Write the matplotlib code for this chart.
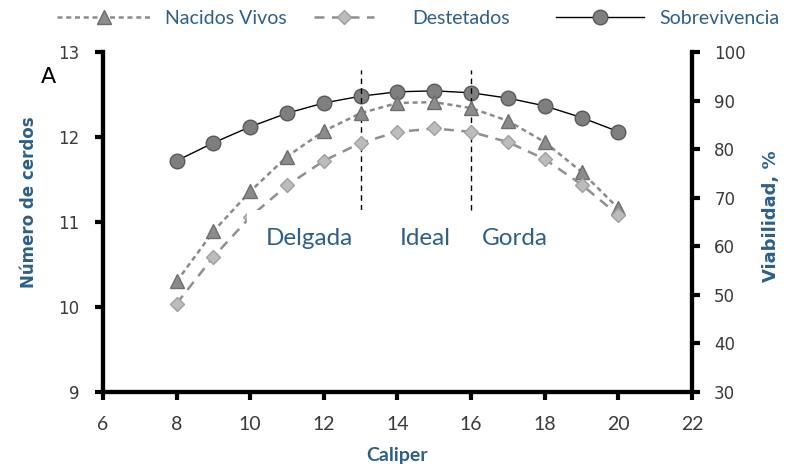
import numpy as np
import matplotlib
matplotlib.use("Agg")
import matplotlib.pyplot as plt

# datos
caliper = [8, 9, 10, 11, 12, 13, 14, 15, 16, 17, 18, 19, 20]
nacidos_vivos = [10.30, 10.89, 11.36, 11.77, 12.07, 12.28, 12.40, 12.41, 12.34, 12.19, 11.94, 11.59, 11.16]
destetados = [10.04, 10.59, 11.06, 11.43, 11.72, 11.93, 12.06, 12.10, 12.06, 11.94, 11.74, 11.44, 11.08]
sobrevivencia = [77.6, 81.3, 84.6, 87.4, 89.5, 90.9, 91.8, 92.0, 91.6, 90.5, 88.9, 86.5, 83.6]

cortes = [13, 16]
corte_y = (11.14, 12.79)
zonas = ["Delgada", "Ideal", "Gorda"]
zonas_x = [11.6, 14.75, 17.2]
zonas_y = 10.80

azul = "#2e5f87"
tick_color = "#3a3a3a"

fig = plt.figure(figsize=(7.96, 4.67), dpi=100)
ax = fig.add_axes([0.1294, 0.1606, 0.7399, 0.7281])
ax2 = ax.twinx()

# lineas de corte
for c in cortes:
    ax.plot([c, c], corte_y, color="black", lw=1, ls=(0, (4, 3)), zorder=2)

l1, = ax.plot(caliper, nacidos_vivos, color="#8a8a8a", lw=1.8, ls=(0, (2, 1.5)),
              marker="^", ms=10, mfc="#8c8c8c", mec="#6e6e6e", mew=1, zorder=3)
l2, = ax.plot(caliper, destetados, color="#8f8f8f", lw=1.8, ls=(0, (4, 3)),
              marker="D", ms=7, mfc="#bcbcbc", mec="#a0a0a0", mew=1, zorder=3)
l3, = ax2.plot(caliper, sobrevivencia, color="black", lw=1,
               marker="o", ms=10.5, mfc="#7f7f7f", mec="#5a5a5a", mew=1, zorder=3)

for i, z in enumerate(zonas):
    # el cuadro de texto de "Delgada" tapa parte de la serie Destetados
    bb = dict(facecolor="white", edgecolor="none", pad=13.5) if i == 0 else None
    ax.text(zonas_x[i], zonas_y, z, ha="center", va="center", fontsize=17.5,
            family="Lato", color=azul, zorder=5, bbox=bb)

ax.text(4.51, 12.70, "A", ha="center", va="center", fontsize=16, family="DejaVu Sans",
        clip_on=False)

ax.set_xlim(6, 22)
ax.set_ylim(9, 13)
ax2.set_ylim(30, 100)
ax.set_xticks(range(6, 23, 2))
ax.set_yticks(range(9, 14))
ax2.set_yticks(range(30, 101, 10))

for a in (ax, ax2):
    a.spines["top"].set_visible(False)
    for s in ("left", "right", "bottom"):
        a.spines[s].set_linewidth(3)
    a.tick_params(width=3, length=6, colors="black", labelcolor=tick_color)

ax.tick_params(axis="y", labelsize=12, pad=11)
ax2.tick_params(axis="y", labelsize=12, pad=10)
ax.tick_params(axis="x", labelsize=14, pad=11)
for lab in ax.get_xticklabels():
    lab.set_family("Lato")
ax.set_zorder(ax2.get_zorder() + 1)
ax.patch.set_visible(False)

ax.set_xlabel("Caliper", fontsize=14, fontweight="bold", color=azul, family="Lato")
ax.xaxis.label.set_va("center")
ax.xaxis.set_label_coords(0.5, -0.188)
ax.set_ylabel("Número de cerdos", fontsize=12, fontweight="bold", color=azul)
ax.yaxis.set_label_coords(-0.11, 0.559)
ax2.set_ylabel("Viabilidad, %", fontsize=13, fontweight="bold", color=azul)
ax2.yaxis.set_label_coords(1.119, 0.518)

# leyenda arriba: una entrada por bloque para respetar largos distintos
entradas = [(l1, "Nacidos Vivos", 57, 4.8, 0.77),
            (l2, "Destetados", 314, 3.1, 1.95),
            (l3, "Sobrevivencia", 556, 4.5, 0.8)]
for h, txt, x0, hl, tp in entradas:
    leg = fig.legend([h], [txt], loc="center left", bbox_to_anchor=(x0 / 796, 1 - 18 / 467),
                     frameon=False, prop={"family": "Lato", "size": 14}, handlelength=hl,
                     handletextpad=tp, borderpad=0, borderaxespad=0)
    for t in leg.get_texts():
        t.set_color(azul)

fig.savefig("out.png", dpi=100)
